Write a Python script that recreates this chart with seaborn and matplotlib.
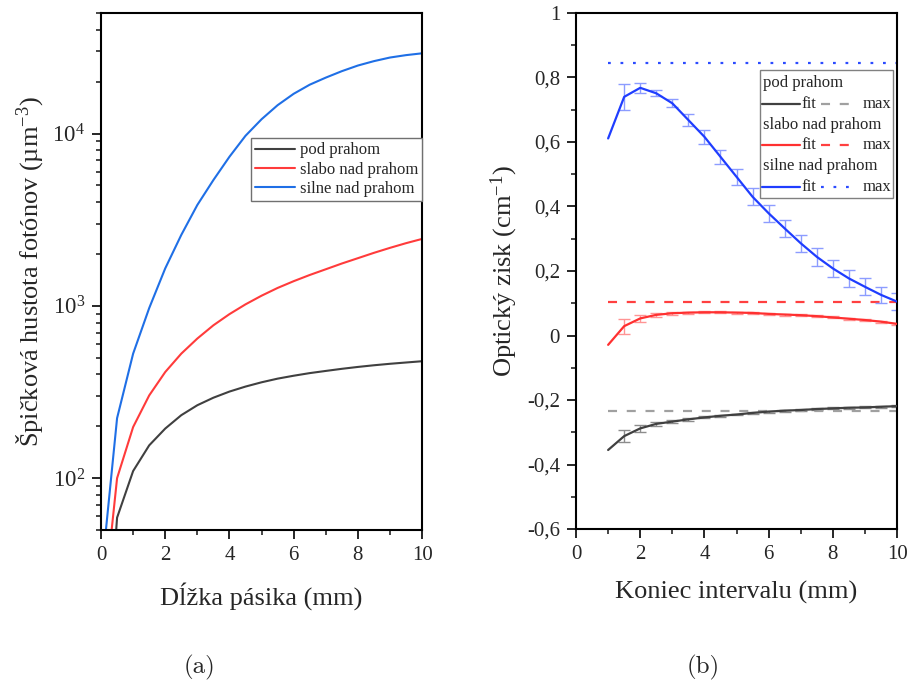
import matplotlib
matplotlib.use("Agg")
import numpy as np
import pandas as pd
import matplotlib.pyplot as plt
from matplotlib.lines import Line2D
from matplotlib.patches import Rectangle
from matplotlib.ticker import FuncFormatter, MultipleLocator, LogLocator, NullFormatter
import seaborn as sns

# (a) spickova hustota fotonov vs. dlzka pasika
dlzka = [0, 0.5, 1, 1.5, 2, 2.5, 3, 3.5, 4, 4.5, 5, 5.5, 6, 6.5, 7, 7.5, 8, 8.5, 9, 9.5, 10]
hustota_pod = [3, 59, 110, 155, 194, 232, 265, 293, 318, 340, 360, 378, 393, 407, 419, 431, 442, 452,
               461, 469, 477]
hustota_slabo = [13, 100, 198, 302, 413, 528, 646, 771, 895, 1020, 1145, 1270, 1390, 1510, 1630, 1760,
                 1890, 2030, 2170, 2310, 2445]
hustota_silne = [26, 223, 528, 970, 1650, 2580, 3850, 5370, 7330, 9700, 12100, 14600, 17000, 19200,
                 21100, 23000, 24800, 26300, 27600, 28500, 29200]

# (b) opticky zisk vs. koniec intervalu
koniec = [1, 1.5, 2, 2.5, 3, 3.5, 4, 4.5, 5, 5.5, 6, 6.5, 7, 7.5, 8, 8.5, 9, 9.5, 10]
zisk_pod = [-0.355, -0.312, -0.288, -0.274, -0.267, -0.260, -0.254, -0.249, -0.245, -0.240, -0.236,
            -0.233, -0.231, -0.228, -0.226, -0.224, -0.223, -0.221, -0.219]
chyba_pod = [0, 0.018, 0.010, 0.006, 0.004, 0.004, 0.003, 0.003, 0.003, 0.003, 0.003, 0.003, 0.003,
             0.003, 0.003, 0.003, 0.003, 0.003, 0.003]
zisk_slabo = [-0.029, 0.029, 0.053, 0.064, 0.069, 0.071, 0.072, 0.072, 0.071, 0.070, 0.067, 0.065,
              0.063, 0.060, 0.056, 0.052, 0.048, 0.043, 0.036]
chyba_slabo = [0, 0.023, 0.012, 0.006, 0.004, 0.003, 0.003, 0.003, 0.003, 0.003, 0.003, 0.003, 0.003,
               0.003, 0.003, 0.003, 0.003, 0.003, 0.003]
zisk_silne = [0.611, 0.740, 0.768, 0.751, 0.720, 0.668, 0.616, 0.554, 0.492, 0.430, 0.379, 0.332, 0.286,
              0.244, 0.208, 0.177, 0.151, 0.126, 0.105]
chyba_silne = [0, 0.041, 0.015, 0.009, 0.013, 0.018, 0.022, 0.022, 0.024, 0.026, 0.027, 0.027, 0.027,
               0.027, 0.027, 0.026, 0.026, 0.025, 0.026]
max_zisk = {"pod prahom": -0.234, "slabo nad prahom": 0.105, "silne nad prahom": 0.844}

rezimy = ["pod prahom", "slabo nad prahom", "silne nad prahom"]
farby_a = {"pod prahom": "#404040", "slabo nad prahom": "#ff3b3b", "silne nad prahom": "#1f6fe6"}
farby_b = {"pod prahom": "#404040", "slabo nad prahom": "#ff3030", "silne nad prahom": "#1f3dff"}
farby_chyba = {"pod prahom": "#8c8c8c", "slabo nad prahom": "#ff9494", "silne nad prahom": "#8c9cff"}
farby_max = {"pod prahom": "#a0a0a0", "slabo nad prahom": "#ff4040", "silne nad prahom": "#2b4bff"}
styl_max = {"pod prahom": (0, (6.5, 7.0)), "slabo nad prahom": (0, (6.5, 7.0)),
            "silne nad prahom": (0, (2.0, 7.0))}

sns.set_style("ticks")
plt.rcParams["font.family"] = ["Liberation Serif", "DejaVu Serif"]
plt.rcParams["mathtext.fontset"] = "custom"
plt.rcParams["mathtext.rm"] = "Liberation Serif"
plt.rcParams["mathtext.it"] = "Liberation Serif:italic"
plt.rcParams["lines.scale_dashes"] = False
plt.rcParams["axes.linewidth"] = 1.5
plt.rcParams["axes.edgecolor"] = "black"

df_a = pd.DataFrame({
    "dlzka": dlzka * 3,
    "hustota": hustota_pod + hustota_slabo + hustota_silne,
    "rezim": np.repeat(rezimy, len(dlzka)),
})
df_b = pd.DataFrame({
    "koniec": koniec * 3,
    "zisk": zisk_pod + zisk_slabo + zisk_silne,
    "chyba": chyba_pod + chyba_slabo + chyba_silne,
    "rezim": np.repeat(rezimy, len(koniec)),
})

fig = plt.figure(figsize=(9.11, 6.84), dpi=100)
ax1 = fig.add_axes([0.1109, 0.2251, 0.3524, 0.7558])
ax2 = fig.add_axes([0.6323, 0.2266, 0.3524, 0.7544])

# ---------- (a) ----------
sns.lineplot(data=df_a, x="dlzka", y="hustota", hue="rezim", palette=farby_a, hue_order=rezimy,
             estimator=None, sort=False, linewidth=1.5, legend=False, ax=ax1)
ax1.set_yscale("log")
ax1.set_xlim(0, 10)
ax1.set_ylim(50, 50000)
ax1.xaxis.set_major_locator(MultipleLocator(2))
ax1.xaxis.set_minor_locator(MultipleLocator(1))
ax1.yaxis.set_major_locator(LogLocator(base=10, subs=(1.0,)))
ax1.yaxis.set_minor_locator(LogLocator(base=10, subs=np.arange(2, 10)))
ax1.yaxis.set_minor_formatter(NullFormatter())
ax1.set_xlabel("Dĺžka pásika (mm)", fontsize=19, labelpad=12)
ax1.set_ylabel(r"Špičková hustota fotónov (µm$^{\mathregular{-3}}$)", fontsize=19, labelpad=5)

handles_a = [Line2D([], [], color=farby_a[r], lw=1.5) for r in rezimy]
leg = ax1.legend(handles_a, rezimy, loc="upper right", bbox_to_anchor=(1.0, 0.758),
                 borderaxespad=0, fontsize=12, frameon=True, fancybox=False, framealpha=1,
                 edgecolor="#707070", handlelength=2.4, handletextpad=0.25, labelspacing=0.2,
                 borderpad=0.25)
leg.get_frame().set_linewidth(1.0)

# ---------- (b) ----------
for r in rezimy:
    d = df_b[(df_b.rezim == r) & (df_b.chyba > 0)]
    ax2.errorbar(d.koniec, d.zisk, yerr=d.chyba, fmt="none", ecolor=farby_chyba[r],
                 elinewidth=1.0, capsize=4, capthick=1.0, zorder=2)
    ax2.hlines(max_zisk[r], koniec[0], koniec[-1], colors=farby_max[r], linestyles=styl_max[r],
               linewidth=1.6, zorder=2)
sns.lineplot(data=df_b, x="koniec", y="zisk", hue="rezim", palette=farby_b, hue_order=rezimy,
             estimator=None, sort=False, linewidth=1.6, legend=False, ax=ax2, zorder=3)
ax2.set_xlim(0, 10)
ax2.set_ylim(-0.6, 1.0)
ax2.xaxis.set_major_locator(MultipleLocator(2))
ax2.xaxis.set_minor_locator(MultipleLocator(1))
ax2.yaxis.set_major_locator(MultipleLocator(0.2))
ax2.yaxis.set_minor_locator(MultipleLocator(0.1))
ax2.yaxis.set_major_formatter(FuncFormatter(lambda v, p: f"{round(v, 2):g}".replace(".", ",")))
ax2.set_xlabel("Koniec intervalu (mm)", fontsize=19, labelpad=12)
ax2.set_ylabel(r"Optický zisk (cm$^{\mathregular{-1}}$)", fontsize=19, labelpad=5)

# Origin style legend with group titles
lx0, lx1, ly1, ly0 = 0.573, 0.988, 0.8895, 0.6415
ax2.add_patch(Rectangle((lx0, ly0), lx1 - lx0, ly1 - ly0, transform=ax2.transAxes, facecolor="white",
                        edgecolor="#808080", linewidth=1.0, zorder=5))
row_y = 0.864
pitch = 0.0401
for r in rezimy:
    ax2.text(0.582, row_y, r, transform=ax2.transAxes, fontsize=12, va="center", ha="left", zorder=6)
    row_y -= pitch
    ax2.add_line(Line2D([0.580, 0.698], [row_y, row_y], transform=ax2.transAxes, color=farby_b[r],
                        lw=1.6, zorder=6))
    ax2.text(0.701, row_y, "fit", transform=ax2.transAxes, fontsize=12, va="center", ha="left", zorder=6)
    ax2.add_line(Line2D([0.762, 0.856], [row_y, row_y], transform=ax2.transAxes, color=farby_max[r],
                        lw=1.6, linestyle=styl_max[r], zorder=6))
    ax2.text(0.893, row_y, "max", transform=ax2.transAxes, fontsize=12, va="center", ha="left", zorder=6)
    row_y -= pitch

for ax in (ax1, ax2):
    for s in ax.spines.values():
        s.set_visible(True)
        s.set_linewidth(1.5)
    ax.tick_params(which="major", direction="out", length=6.5, width=1.4, labelsize=15, pad=5,
                   top=False, right=False)
    ax.tick_params(which="minor", direction="out", length=3.5, width=1.2, top=False, right=False)
ax1.tick_params(axis="y", which="major", labelsize=16.5)

fig.text(200 / 911, 1 - 667 / 684, "(a)", family="cmr10", fontsize=18, ha="center", va="center")
fig.text(703 / 911, 1 - 667 / 684, "(b)", family="cmr10", fontsize=18, ha="center", va="center")

fig.savefig("out.png", dpi=100, facecolor="white")
